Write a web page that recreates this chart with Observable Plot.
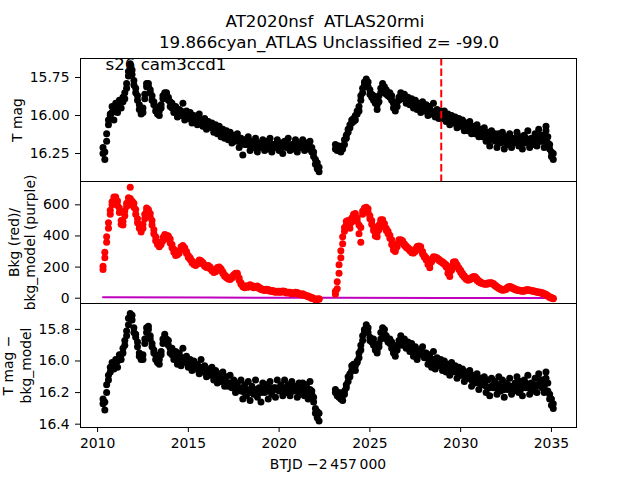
<!DOCTYPE html>
<html>
<head>
<meta charset="utf-8">
<script src="https://cdn.jsdelivr.net/npm/d3@7"></script>
<script src="https://cdn.jsdelivr.net/npm/@observablehq/plot@0.6"></script>
<style>
  html, body { margin: 0; padding: 0; background: white; }
  #chart { position: relative; width: 640px; height: 480px; background: white; overflow: hidden; }
  #chart svg { position: absolute; left: 0; }
</style>
</head>
<body>
<div id="chart"></div>
<script>
// ---------------- DATA ----------------
const titleLine1 = "AT2020nsf\u00a0 ATLAS20rmi";
const titleLine2 = "19.866cyan_ATLAS Unclassified z= -99.0";
const sectorLabel = "s26 cam3ccd1";
const xLabel = "BTJD \u22122\u2009457\u2009000";
const yLabel1 = "T mag";
const yLabel2a = "Bkg (red)/";
const yLabel2b = "bkg_model (purple)";
const yLabel3a = "T mag \u2212";
const yLabel3b = "bkg_model";

const yearTicks = [2010, 2015, 2020, 2025, 2030, 2035];
const magTicks = [15.75, 16.00, 16.25];
const bkgTicks = [0, 200, 400, 600];
const corTicks = [15.8, 16.0, 16.2, 16.4];
const markerTime = 2028.93;

// first segment times
const t1 = [
  2010.3,2010.4,2010.5,2010.6,2010.7,2010.8,2010.9,2011.0,2011.1,2011.2,
  2011.3,2011.4,2011.5,2011.6,2011.7,2011.8,2011.9,2012.0,2012.1,2012.2,
  2012.3,2012.4,2012.5,2012.6,2012.7,2012.8,2012.9,2013.0,2013.1,2013.2,
  2013.3,2013.4,2013.5,2013.6,2013.7,2013.8,2013.9,2014.0,2014.1,2014.2,
  2014.3,2014.4,2014.5,2014.6,2014.7,2014.8,2014.9,2015.0,2015.1,2015.2,
  2015.3,2015.4,2015.5,2015.6,2015.7,2015.8,2015.9,2016.0,2016.1,2016.2,
  2016.3,2016.4,2016.5,2016.6,2016.7,2016.8,2016.9,2017.0,2017.1,2017.2,
  2017.3,2017.4,2017.5,2017.6,2017.7,2017.8,2017.9,2018.0,2018.1,2018.2,
  2018.3,2018.4,2018.5,2018.6,2018.7,2018.8,2018.9,2019.0,2019.1,2019.2,
  2019.3,2019.4,2019.5,2019.6,2019.7,2019.8,2019.9,2020.0,2020.1,2020.2,
  2020.3,2020.4,2020.5,2020.6,2020.7,2020.8,2020.9,2021.0,2021.1,2021.2,
  2021.3,2021.4,2021.5,2021.6,2021.7,2021.8,2021.9,2022.0,2022.1,2022.2
];
// second segment times
const t2 = [
  2023.1,2023.2,2023.3,2023.4,2023.5,2023.6,2023.7,2023.8,2023.9,2024.0,
  2024.1,2024.2,2024.3,2024.4,2024.5,2024.6,2024.7,2024.8,2024.9,2025.0,
  2025.1,2025.2,2025.3,2025.4,2025.5,2025.6,2025.7,2025.8,2025.9,2026.0,
  2026.1,2026.2,2026.3,2026.4,2026.5,2026.6,2026.7,2026.8,2026.9,2027.0,
  2027.1,2027.2,2027.3,2027.4,2027.5,2027.6,2027.7,2027.8,2027.9,2028.0,
  2028.1,2028.2,2028.3,2028.4,2028.5,2028.6,2028.7,2028.8,2028.9,2029.0,
  2029.1,2029.2,2029.3,2029.4,2029.5,2029.6,2029.7,2029.8,2029.9,2030.0,
  2030.1,2030.2,2030.3,2030.4,2030.5,2030.6,2030.7,2030.8,2030.9,2031.0,
  2031.1,2031.2,2031.3,2031.4,2031.5,2031.6,2031.7,2031.8,2031.9,2032.0,
  2032.1,2032.2,2032.3,2032.4,2032.5,2032.6,2032.7,2032.8,2032.9,2033.0,
  2033.1,2033.2,2033.3,2033.4,2033.5,2033.6,2033.7,2033.8,2033.9,2034.0,
  2034.1,2034.2,2034.3,2034.4,2034.5,2034.6,2034.7,2034.8,2034.9,2035.0,
  2035.1
];

// T mag (two readings per time step)
const mag1 = [
  16.25,16.29,16.17,16.03,16.00,15.94,16.03,15.92,15.98,15.90,
  15.95,15.88,15.89,15.79,15.74,15.66,15.73,15.77,15.85,15.87,
  15.96,15.99,15.95,15.86,15.79,15.81,15.83,15.90,15.91,15.97,
  15.97,16.00,15.93,15.89,15.85,15.87,15.88,15.94,15.92,15.98,
  15.94,16.01,15.96,16.00,15.92,16.03,15.97,16.02,15.98,16.05,
  16.00,16.03,16.06,15.99,16.05,16.07,16.02,16.09,16.04,16.07,
  16.05,16.11,16.06,16.12,16.07,16.14,16.09,16.15,16.10,16.16,
  16.11,16.18,16.13,16.17,16.12,16.21,16.15,16.26,16.16,16.19,
  16.14,16.23,16.17,16.21,16.15,16.24,16.18,16.21,16.16,16.23,
  16.17,16.22,16.15,16.24,16.19,16.21,16.16,16.23,16.18,16.25,
  16.17,16.21,16.15,16.23,16.19,16.22,16.16,16.24,16.18,16.21,
  16.16,16.23,16.18,16.22,16.17,16.24,16.27,16.29,16.35,16.34
];
const mag1b = [
  16.21,16.24,16.12,16.06,15.99,15.98,15.96,15.97,15.95,15.94,
  15.91,15.91,15.85,15.82,15.71,15.69,15.70,15.80,15.82,15.90,
  15.93,15.97,15.98,15.89,15.81,15.79,15.85,15.87,15.93,15.94,
  15.99,15.97,15.95,15.87,15.87,15.85,15.90,15.91,15.95,15.95,
  15.97,15.97,15.99,15.97,15.98,15.99,16.00,15.99,16.01,16.02,
  16.03,16.01,16.03,16.04,16.03,16.05,16.06,16.05,16.07,16.06,
  16.08,16.08,16.09,16.09,16.10,16.10,16.12,16.12,16.13,16.13,
  16.14,16.14,16.16,16.15,16.16,16.17,16.18,16.18,16.19,16.17,
  16.19,16.19,16.20,16.18,16.20,16.19,16.20,16.19,16.20,16.19,
  16.20,16.19,16.20,16.19,16.21,16.19,16.20,16.20,16.21,16.20,
  16.19,16.20,16.19,16.20,16.21,16.19,16.20,16.20,16.21,16.19,
  16.20,16.19,16.21,16.19,16.21,16.21,16.24,16.32,16.31,16.37
];
const mag2 = [
  16.19,16.23,16.20,16.24,16.22,16.16,16.13,16.11,16.06,16.05,
  16.02,16.03,15.97,15.97,15.90,15.85,15.78,15.76,15.81,15.83,
  15.88,15.87,15.92,15.96,15.87,15.82,15.79,15.84,15.83,15.87,
  15.85,15.90,15.92,15.97,15.91,15.88,15.85,15.89,15.86,15.92,
  15.88,15.93,15.89,15.95,15.90,15.96,15.92,15.98,15.91,15.95,
  15.93,16.00,15.94,15.97,15.92,16.01,15.96,16.02,15.97,16.00,
  15.97,16.04,15.99,16.06,16.00,16.03,16.01,16.08,16.02,16.07,
  16.03,16.10,16.05,16.08,16.04,16.12,16.07,16.10,16.06,16.14,
  16.09,16.12,16.08,16.17,16.11,16.20,16.10,16.15,16.12,16.21,
  16.12,16.18,16.11,16.22,16.14,16.19,16.12,16.21,16.15,16.17,
  16.11,16.20,16.14,16.22,16.13,16.18,16.10,16.21,16.15,16.19,
  16.12,16.20,16.09,16.17,16.13,16.21,16.07,16.14,16.22,16.27,
  16.25
];
const mag2b = [
  16.22,16.20,16.23,16.21,16.20,16.19,16.15,16.09,16.08,16.03,
  16.04,16.00,15.99,15.94,15.87,15.82,15.80,15.79,15.78,15.86,
  15.86,15.90,15.90,15.93,15.91,15.85,15.82,15.81,15.86,15.85,
  15.88,15.87,15.95,15.94,15.94,15.90,15.88,15.86,15.89,15.89,
  15.91,15.90,15.92,15.92,15.93,15.93,15.95,15.95,15.95,15.97,
  15.97,15.96,15.98,15.99,15.98,15.98,16.00,15.99,16.01,16.02,
  16.02,16.01,16.03,16.03,16.04,16.05,16.05,16.05,16.06,16.05,
  16.07,16.07,16.08,16.10,16.09,16.09,16.10,16.12,16.11,16.11,
  16.13,16.14,16.13,16.14,16.15,16.16,16.15,16.13,16.17,16.16,
  16.16,16.15,16.17,16.17,16.18,16.16,16.17,16.17,16.18,16.15,
  16.16,16.16,16.17,16.18,16.16,16.15,16.16,16.17,16.18,16.16,
  16.16,16.15,16.15,16.13,16.17,16.16,16.10,16.18,16.19,16.24,
  16.29
];

// background flux (two readings per time step)
const bkg1 = [
  185,260,360,450,540,600,630,650,625,580,
  500,470,530,590,620,713,625,610,570,510,
  470,440,450,510,560,570,545,500,440,395,
  360,345,345,370,395,405,400,380,345,315,
  290,280,290,315,330,325,300,275,260,240,
  225,215,220,235,240,230,215,205,210,200,
  185,175,170,185,200,190,170,150,140,130,
  125,130,140,150,160,130,100,82,72,75,
  70,80,82,75,70,78,70,62,58,55,
  52,56,50,45,48,42,40,44,38,42,
  45,38,35,38,33,30,34,36,30,26,
  28,22,18,14,10,4,-4,-6,-8,-6
];
const bkg1b = [
  205,295,395,485,565,620,650,635,595,550,
  475,495,560,610,645,640,600,585,540,485,
  450,425,475,540,580,555,520,470,415,370,
  345,330,360,390,410,390,380,355,325,295,
  275,290,305,330,338,312,287,262,248,228,
  216,210,230,245,234,220,206,198,204,190,
  176,166,177,197,196,178,158,141,132,123,
  120,138,150,160,148,116,90,74,68,80,
  76,86,76,68,75,72,63,56,52,49,
  57,50,44,50,42,38,45,38,43,47,
  40,33,39,32,29,34,38,31,26,22,
  23,18,14,10,5,-2,0,-10,-5,-3
];
const bkg2 = [
  25,60,160,260,350,430,470,500,450,490,
  520,545,515,470,360,540,560,585,575,530,
  500,460,420,395,440,490,505,480,450,430,
  405,375,330,300,330,360,375,370,350,335,
  325,315,300,290,300,320,335,330,300,275,
  260,240,195,235,255,265,260,250,240,235,
  225,215,190,140,180,220,235,215,195,180,
  160,145,130,120,118,125,135,138,125,112,
  104,98,95,90,92,96,100,95,85,75,
  68,60,55,52,56,65,75,72,65,60,
  55,52,50,48,45,50,55,52,50,48,
  45,42,40,38,35,30,25,18,10,4,
  0
];
const bkg2b = [
  45,105,215,305,395,455,495,475,475,515,
  540,520,495,415,455,560,580,565,550,510,
  475,435,400,420,470,505,490,460,435,415,
  385,345,310,320,350,375,368,355,338,326,
  318,305,292,298,314,332,328,310,284,264,
  246,216,218,250,266,258,252,242,234,226,
  216,200,160,165,205,232,222,202,185,166,
  148,134,122,116,125,133,140,128,114,104,
  97,94,90,93,97,100,96,88,78,70,
  62,56,51,56,63,72,72,66,60,55,
  51,49,47,44,49,54,52,49,47,44,
  41,39,37,34,31,26,20,12,5,0,
  -4
];

// background model (purple line)
const modelT = [2010.3, 2016.0, 2022.2, 2023.1, 2029.0, 2035.1];
const modelV = [6, 4, 3, 3, 2, 1];

// T mag - bkg_model (two readings per time step)
const cor1 = [
  16.24,16.31,16.20,16.12,16.07,16.01,16.05,15.99,16.04,15.96,
  15.99,15.92,15.90,15.84,15.77,15.70,15.74,15.79,15.85,15.88,
  15.95,15.99,15.96,15.86,15.79,15.80,15.84,15.89,15.93,15.96,
  15.99,16.02,15.94,15.86,15.83,15.88,15.87,15.95,15.92,15.99,
  15.94,16.02,15.95,16.03,15.92,16.01,15.97,16.04,15.99,16.06,
  16.00,16.05,16.02,16.08,15.99,16.06,16.03,16.10,16.05,16.09,
  16.04,16.12,16.06,16.14,16.08,16.11,16.07,16.16,16.10,16.14,
  16.09,16.17,16.12,16.20,16.14,16.18,16.12,16.24,16.15,16.22,
  16.13,16.25,16.16,16.21,16.12,16.23,16.17,16.26,16.14,16.20,
  16.15,16.24,16.13,16.21,16.17,16.23,16.12,16.19,16.15,16.22,
  16.12,16.20,16.15,16.22,16.13,16.19,16.16,16.23,16.14,16.21,
  16.14,16.22,16.15,16.24,16.13,16.21,16.26,16.30,16.36,16.33
];
const cor1b = [
  16.27,16.26,16.15,16.09,16.04,16.04,16.02,16.02,16.00,15.99,
  15.96,15.95,15.87,15.81,15.73,15.72,15.71,15.82,15.83,15.91,
  15.97,15.97,15.99,15.89,15.82,15.78,15.86,15.91,15.95,15.99,
  16.01,15.99,15.96,15.89,15.85,15.86,15.90,15.92,15.96,15.96,
  15.98,15.98,15.99,15.99,15.98,16.00,16.01,16.01,16.02,16.03,
  16.03,16.03,16.05,16.05,16.04,16.07,16.07,16.07,16.08,16.07,
  16.08,16.09,16.10,16.10,16.12,16.13,16.12,16.13,16.14,16.16,
  16.14,16.15,16.17,16.16,16.18,16.17,16.19,16.19,16.20,16.18,
  16.19,16.20,16.18,16.19,16.18,16.20,16.19,16.20,16.18,16.19,
  16.18,16.19,16.17,16.19,16.18,16.17,16.18,16.17,16.18,16.19,
  16.17,16.18,16.18,16.17,16.19,16.17,16.18,16.19,16.17,16.18,
  16.18,16.19,16.17,16.20,16.18,16.19,16.23,16.33,16.32,16.38
];
const cor2 = [
  16.18,16.22,16.20,16.24,16.25,16.19,16.15,16.13,16.08,16.06,
  16.04,16.06,16.00,15.98,15.93,15.87,15.80,15.77,15.79,15.85,
  15.88,15.86,15.93,15.95,15.89,15.82,15.79,15.83,15.84,15.88,
  15.86,15.92,15.94,15.97,15.90,15.87,15.84,15.90,15.86,15.92,
  15.88,15.94,15.89,15.97,15.91,15.99,15.93,15.96,15.91,15.98,
  15.95,16.02,15.96,16.04,15.94,16.05,15.98,16.03,15.99,16.06,
  16.00,16.07,16.02,16.09,16.01,16.06,16.03,16.11,16.04,16.09,
  16.05,16.13,16.07,16.11,16.06,16.16,16.09,16.14,16.08,16.18,
  16.11,16.15,16.10,16.20,16.12,16.22,16.11,16.17,16.13,16.21,
  16.10,16.19,16.12,16.23,16.14,16.18,16.11,16.21,16.16,16.17,
  16.10,16.20,16.13,16.22,16.12,16.17,16.09,16.21,16.14,16.19,
  16.11,16.20,16.08,16.16,16.12,16.20,16.07,16.14,16.24,16.28,
  16.27
];
const cor2b = [
  16.20,16.21,16.23,16.22,16.22,16.21,16.17,16.10,16.10,16.03,
  16.02,16.03,16.01,15.95,15.90,15.84,15.82,15.79,15.82,15.87,
  15.86,15.90,15.90,15.93,15.91,15.86,15.82,15.80,15.86,15.86,
  15.89,15.88,15.95,15.94,15.93,15.90,15.87,15.87,15.89,15.89,
  15.91,15.91,15.93,15.93,15.94,15.95,15.96,15.93,15.95,15.95,
  15.98,15.98,16.00,16.00,15.99,16.01,16.01,16.00,16.03,16.03,
  16.04,16.04,16.05,16.05,16.06,16.05,16.07,16.07,16.07,16.07,
  16.09,16.09,16.10,16.09,16.11,16.12,16.12,16.11,16.13,16.14,
  16.14,16.13,16.15,16.16,16.17,16.17,16.16,16.15,16.17,16.17,
  16.15,16.16,16.18,16.18,16.17,16.15,16.16,16.18,16.19,16.14,
  16.15,16.16,16.18,16.17,16.16,16.14,16.16,16.17,16.17,16.15,
  16.16,16.15,16.15,16.12,16.17,16.16,16.11,16.19,16.21,16.24,
  16.30
];

// ---------------- TABLES ----------------
const pts = (t, v) => t.map((d, i) => ({t: d, v: v[i]}));
const magPts = [...pts(t1, mag1), ...pts(t1, mag1b), ...pts(t2, mag2), ...pts(t2, mag2b)];
const bkgPts = [...pts(t1, bkg1), ...pts(t1, bkg1b), ...pts(t2, bkg2), ...pts(t2, bkg2b)];
const corPts = [...pts(t1, cor1), ...pts(t1, cor1b), ...pts(t2, cor2), ...pts(t2, cor2b)];
const modelPts = pts(modelT, modelV);

// ---------------- PLOTS ----------------
const font = "'DejaVu Sans', sans-serif";
const FS = 13.9;
const xDomain = [2009.06, 2036.38];
const common = {
  width: 640, marginLeft: 80, marginRight: 64,
  style: {background: "none", fontFamily: font, overflow: "visible", color: "black"},
  x: {domain: xDomain, axis: null}
};
const axisOpts = {tickSize: 5, tickPadding: 6, fontSize: FS, label: null};
const R = 3.5;
const ylab = (s, dx) => Plot.text([s], {text: d => d, frameAnchor: "left", textAnchor: "middle", lineAnchor: "middle", dx, rotate: -90, fontSize: FS, fill: "black"});

const p1 = Plot.plot({
  ...common,
  height: 187, marginTop: 58, marginBottom: 6,
  y: {domain: [15.625, 16.434], reverse: true},
  marks: [
    Plot.axisY({...axisOpts, ticks: magTicks, tickFormat: d3.format(".2f")}),
    Plot.text([titleLine1], {text: d => d, frameAnchor: "top", textAnchor: "middle", dx: -3.5, dy: -31.3, lineAnchor: "bottom", fontSize: 16.67, fill: "black"}),
    Plot.text([titleLine2], {text: d => d, frameAnchor: "top", textAnchor: "middle", dx: 0.5, dy: -10.3, lineAnchor: "bottom", fontSize: 16.67, fill: "black"}),
    ylab(yLabel1, -63.3),
    Plot.text([sectorLabel], {text: d => d, frameAnchor: "top-left", textAnchor: "start", dx: 25, lineAnchor: "top", fontSize: 16.67, fill: "black"}),
    Plot.dot(magPts, {x: "t", y: "v", r: R, fill: "black"}),
    Plot.ruleX([markerTime], {stroke: "#ff0000", strokeWidth: 2, strokeDasharray: "7.4,3.2"}),
    Plot.frame({stroke: "black", strokeWidth: 1})
  ]
});

const p2 = Plot.plot({
  ...common,
  height: 138, marginTop: 10, marginBottom: 6,
  y: {domain: [-34, 750]},
  marks: [
    Plot.axisY({...axisOpts, ticks: bkgTicks, tickFormat: d3.format("d")}),
    ylab(yLabel2a, -66),
    ylab(yLabel2b, -50),
    Plot.line(modelPts, {x: "t", y: "v", stroke: "#bf00bf", strokeWidth: 2}),
    Plot.dot(bkgPts, {x: "t", y: "v", r: R, fill: "#ff0000"}),
    Plot.frame({stroke: "black", strokeWidth: 1})
  ]
});

const p3 = Plot.plot({
  ...common,
  height: 187, marginTop: 10, marginBottom: 53,
  x: {domain: xDomain},
  y: {domain: [15.636, 16.421], reverse: true},
  marks: [
    Plot.axisY({...axisOpts, ticks: corTicks, tickFormat: d3.format(".1f")}),
    Plot.axisX({...axisOpts, ticks: yearTicks, tickFormat: d3.format("d")}),
    ylab(yLabel3a, -71.5),
    ylab(yLabel3b, -54),
    Plot.text([xLabel], {text: d => d, frameAnchor: "bottom", textAnchor: "middle", dx: -0.5, dy: 41, lineAnchor: "bottom", fontSize: FS, fill: "black"}),
    Plot.dot(corPts, {x: "t", y: "v", r: R, fill: "black"}),
    Plot.frame({stroke: "black", strokeWidth: 1})
  ]
});

const chart = document.getElementById("chart");
p1.style.top = "0px";
p2.style.top = "171px";
p3.style.top = "293px";
chart.append(p1, p2, p3);
</script>
</body>
</html>
